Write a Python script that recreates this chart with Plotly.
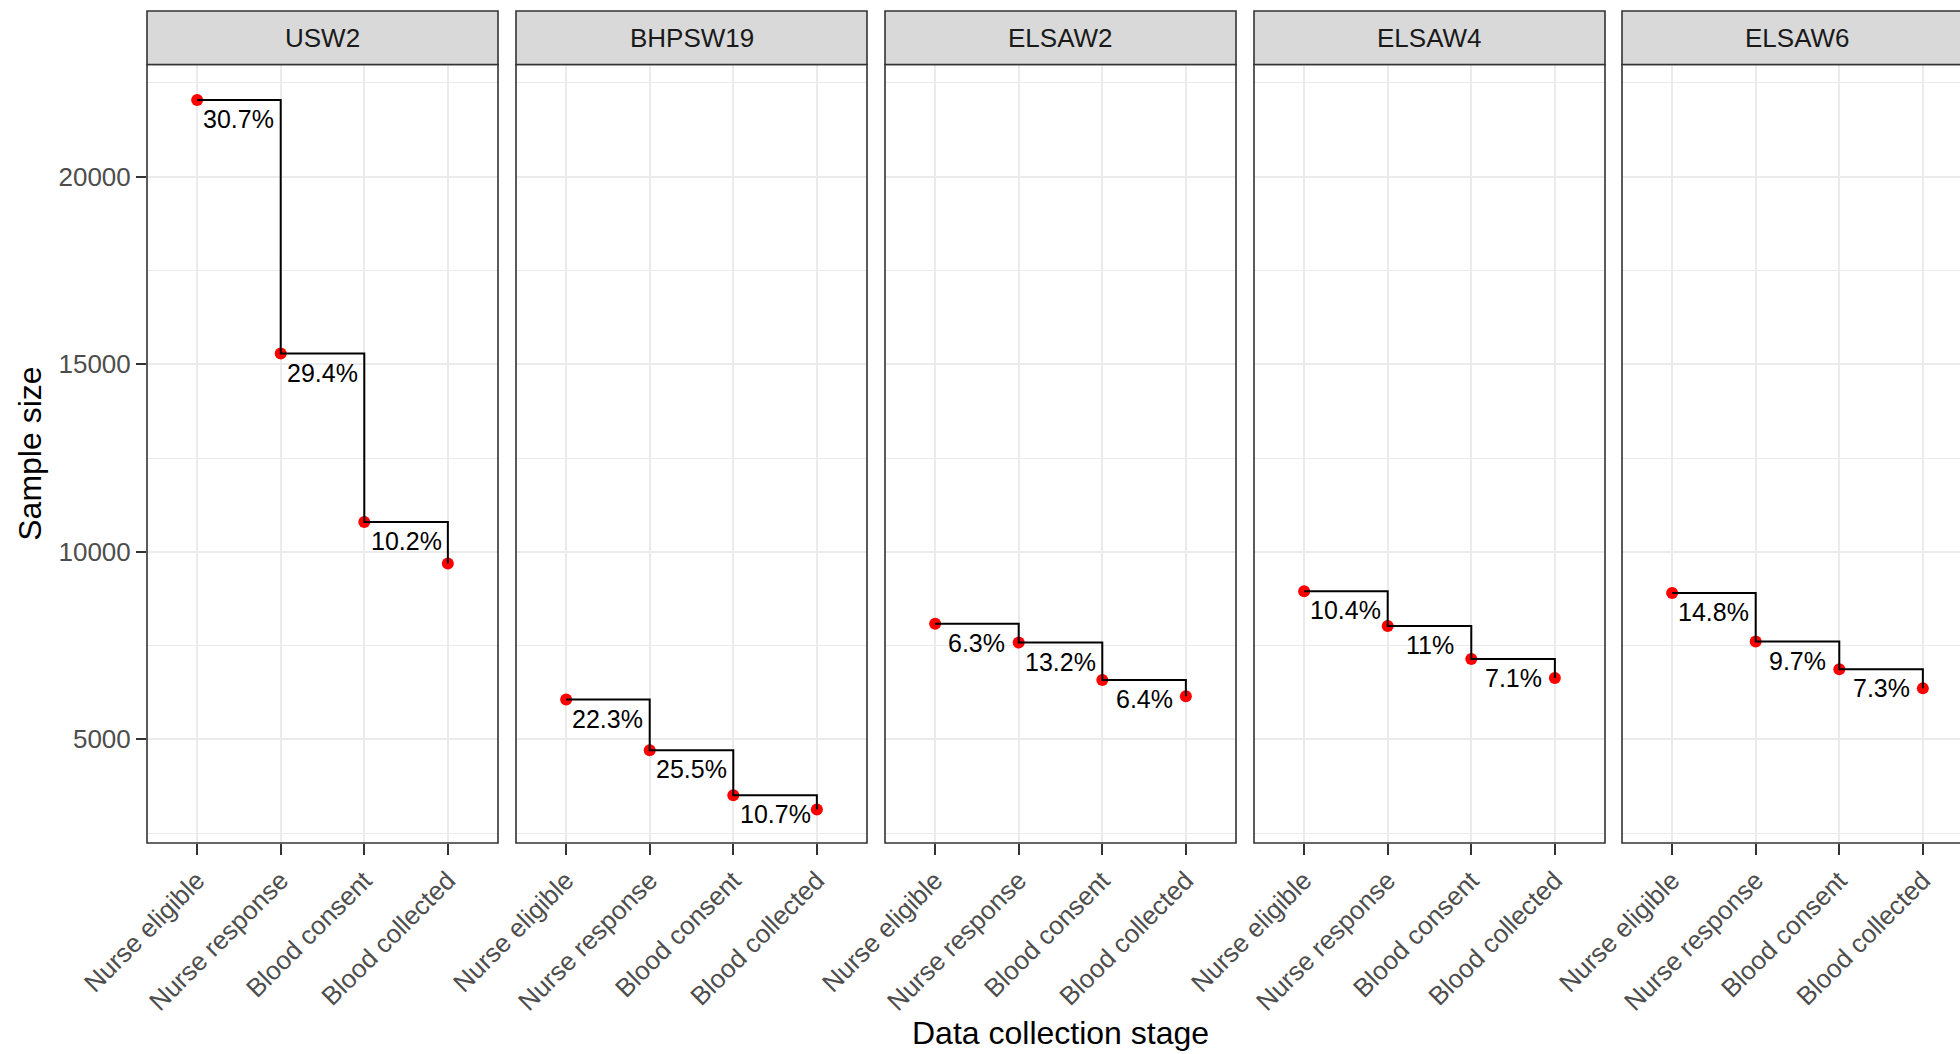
import plotly.graph_objects as go

W, H = 1960, 1054

studies = ["USW2", "BHPSW19", "ELSAW2", "ELSAW4", "ELSAW6"]
stages = ["Nurse eligible", "Nurse response", "Blood consent", "Blood collected"]

usw2 = [22044, 15285, 10791, 9690]
bhpsw19 = [6059, 4707, 3507, 3130]
elsaw2 = [8078, 7578, 6583, 6150]
elsaw4 = [8948, 8020, 7140, 6632]
elsaw6 = [8901, 7605, 6868, 6358]

usw2_lab = ["30.7%", "29.4%", "10.2%"]
bhpsw19_lab = ["22.3%", "25.5%", "10.7%"]
elsaw2_lab = ["6.3%", "13.2%", "6.4%"]
elsaw4_lab = ["10.4%", "11%", "7.1%"]
elsaw6_lab = ["14.8%", "9.7%", "7.3%"]

y_ticks = [5000, 10000, 15000, 20000]

values = [usw2, bhpsw19, elsaw2, elsaw4, elsaw6]
labels = [usw2_lab, bhpsw19_lab, elsaw2_lab, elsaw4_lab, elsaw6_lab]

# layout geometry (pixels)
panel_left = [147, 516, 885, 1254, 1622]
panel_w = 351
plot_top, plot_bot = 64.5, 843
strip_top = 11
unit = panel_w / 4.2

def PX(x):
    return x / W

def PY(y):
    return 1 - y / H

FONT = "Liberation Sans, Arial, sans-serif"
fig = go.Figure()
shapes = []
annotations = []

for i, (name, vals, labs) in enumerate(zip(studies, values, labels)):
    n = i + 1
    xa = "x" if n == 1 else f"x{n}"
    ya = "y" if n == 1 else f"y{n}"
    left = panel_left[i]
    right = min(left + panel_w, W)
    fig.add_trace(go.Scatter(x=stages, y=vals, mode="markers",
                             marker=dict(color="#FF0000", size=12),
                             xaxis=xa, yaxis=ya, showlegend=False, hoverinfo="skip"))
    fig.add_trace(go.Scatter(x=stages, y=vals, mode="lines",
                             line=dict(color="black", width=2, shape="hv"),
                             xaxis=xa, yaxis=ya, showlegend=False, hoverinfo="skip"))
    xr_hi = -0.6 + (right - left) / unit
    xkey = "xaxis" if n == 1 else f"xaxis{n}"
    ykey = "yaxis" if n == 1 else f"yaxis{n}"
    fig.layout[xkey] = dict(
        domain=[PX(left), PX(right)], anchor=ya, type="category", automargin=False,
        categoryorder="array", categoryarray=stages,
        range=[-0.6, xr_hi], showgrid=True, gridcolor="#EBEBEB", gridwidth=2,
        zeroline=False, showline=False, ticks="outside", ticklen=11,
        tickwidth=2, tickcolor="#333333", tickangle=-45,
        tickfont=dict(family=FONT, size=26, color="#4D4D4D"), fixedrange=True,
    )
    fig.layout[ykey] = dict(
        domain=[PY(plot_bot), PY(plot_top)], anchor=xa, range=[2235, 22992],
        automargin=False, tickformat="d",
        tickvals=y_ticks, showgrid=True, gridcolor="#EBEBEB", gridwidth=2,
        minor=dict(dtick=2500, tick0=0, showgrid=True, gridcolor="#EBEBEB", gridwidth=1),
        zeroline=False, showline=False,
        ticks="outside" if n == 1 else "", ticklen=10, tickwidth=2, tickcolor="#333333",
        showticklabels=(n == 1), tickfont=dict(family=FONT, size=26, color="#4D4D4D"),
        fixedrange=True,
    )
    # panel border
    shapes.append(dict(type="rect", xref="paper", yref="paper",
                       x0=PX(left), x1=PX(left + panel_w), y0=PY(plot_bot), y1=PY(plot_top),
                       line=dict(color="#333333", width=1.6), fillcolor="rgba(0,0,0,0)", layer="above"))
    # strip
    shapes.append(dict(type="rect", xref="paper", yref="paper",
                       x0=PX(left), x1=PX(left + panel_w), y0=PY(plot_top), y1=PY(strip_top),
                       line=dict(color="#333333", width=1.6), fillcolor="#D9D9D9", layer="above"))
    annotations.append(dict(text=name, xref="paper", yref="paper",
                            x=PX(left + panel_w / 2), y=PY((strip_top + plot_top) / 2),
                            showarrow=False, xanchor="center", yanchor="middle",
                            font=dict(family=FONT, size=26, color="#1A1A1A")))
    for k, lab in enumerate(labs):
        annotations.append(dict(text=lab, xref=xa, yref=ya, x=k + 0.5, y=vals[k],
                                showarrow=False, xanchor="center", yanchor="middle",
                                yshift=-19, font=dict(family=FONT, size=25, color="black")))

annotations.append(dict(text="Data collection stage", xref="paper", yref="paper",
                        x=PX((panel_left[0] + panel_left[-1] + panel_w) / 2), y=PY(1033),
                        showarrow=False, xanchor="center", yanchor="middle",
                        font=dict(family=FONT, size=32, color="black")))
annotations.append(dict(text="Sample size", xref="paper", yref="paper",
                        x=PX(30), y=PY((plot_top + plot_bot) / 2), textangle=-90,
                        showarrow=False, xanchor="center", yanchor="middle",
                        font=dict(family=FONT, size=32, color="black")))

fig.update_layout(width=W, height=H, margin=dict(l=0, r=0, t=0, b=0),
                  paper_bgcolor="white", plot_bgcolor="white",
                  shapes=shapes, annotations=annotations, showlegend=False)

fig.write_html("out.html", config={"displayModeBar": False})

# remove the default 8px body margin so the figure fills the window exactly
with open("out.html", "r", encoding="utf-8") as f:
    html = f.read()
html = html.replace("<head>", "<head><style>html,body{margin:0;padding:0;overflow:hidden;}</style>", 1)
with open("out.html", "w", encoding="utf-8") as f:
    f.write(html)
